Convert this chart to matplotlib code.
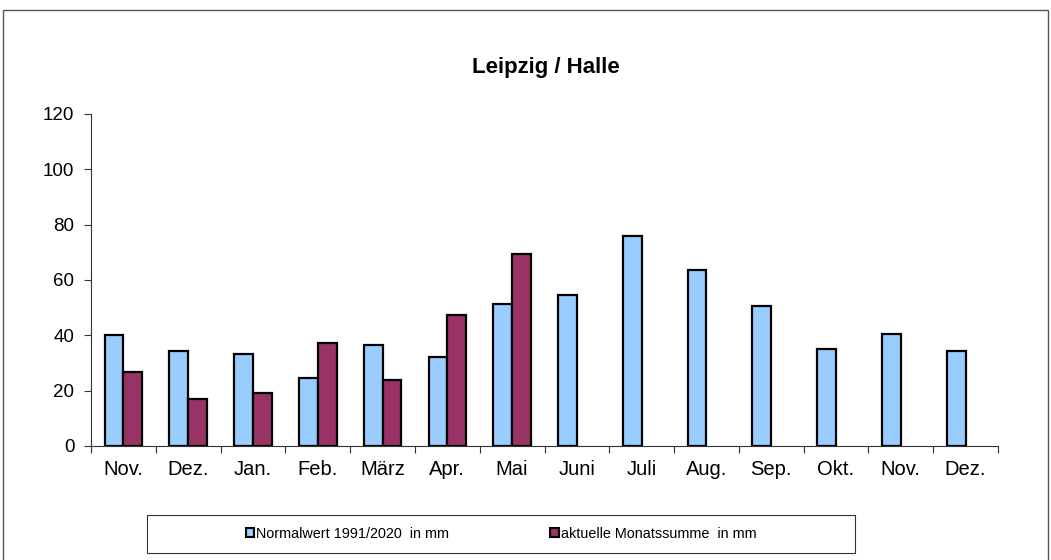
import matplotlib.pyplot as plt
import numpy as np
from matplotlib.patches import Rectangle, Patch

plt.rcParams['font.family'] = ['Liberation Sans', 'DejaVu Sans']

months = ['Nov.', 'Dez.', 'Jan.', 'Feb.', 'März', 'Apr.', 'Mai', 'Juni',
          'Juli', 'Aug.', 'Sep.', 'Okt.', 'Nov.', 'Dez.']
normal = [40.2, 34.3, 33.3, 24.6, 36.5, 32.0, 51.2, 54.6, 75.9, 63.5, 50.5, 35.2, 40.5, 34.5]
current = [26.6, 17.1, 19.2, 37.3, 23.9, 47.3, 69.4]

blue = '#99CCFF'
red = '#993366'

fig = plt.figure(figsize=(10.51, 5.6), dpi=100)
ax = fig.add_axes([91 / 1051, 1 - 446 / 560, 907 / 1051, 332 / 560])

x = np.arange(len(months)) + 0.5
w = 0.29
ax.bar(x - w / 2, normal, width=w, color=blue, edgecolor='black', linewidth=1.6)
ax.bar(x[:len(current)] + w / 2, current, width=w, color=red, edgecolor='black', linewidth=1.6)

ax.set_xlim(0, len(months))
ax.set_ylim(0, 120)
ax.set_yticks(range(0, 121, 20))
ax.set_xticks(np.arange(len(months) + 1))
ax.set_xticklabels([])
ax.set_xticks(x, minor=True)
ax.set_xticklabels(months, minor=True)
ax.tick_params(axis='x', which='minor', length=0, labelsize=14.5, pad=10)
ax.tick_params(axis='x', which='major', length=5, direction='out', color='#333333')
ax.tick_params(axis='y', labelsize=13.5, length=5, direction='out', color='#333333', pad=7)
for s in ['top', 'right']:
    ax.spines[s].set_visible(False)
ax.spines['left'].set_color('#333333')
ax.spines['bottom'].set_color('#333333')

fig.text(546 / 1051, 1 - 67 / 560, 'Leipzig / Halle', ha='center', va='center',
         fontsize=16, fontweight='bold')

# outer frame and legend box
fig.patches.append(Rectangle((3 / 1051, -0.1), 1045 / 1051, 1.1 - 10 / 560,
                             transform=fig.transFigure, fill=False,
                             edgecolor='#555555', linewidth=1))
fig.patches.append(Rectangle((147 / 1051, 1 - 553 / 560), 708 / 1051, 38 / 560,
                             transform=fig.transFigure, fill=False,
                             edgecolor='#333333', linewidth=0.8))

handles = [Patch(facecolor=blue, edgecolor='black', linewidth=1.5),
           Patch(facecolor=red, edgecolor='black', linewidth=1.5)]
fig.legend(handles, ['Normalwert 1991/2020  in mm', 'aktuelle Monatssumme  in mm'],
           loc='center', bbox_to_anchor=(501 / 1051, 1 - 534 / 560), ncol=2,
           frameon=False, fontsize=10.4, handlelength=0.6, handleheight=0.6,
           handletextpad=0.12, columnspacing=7.0)

fig.savefig('out.png', dpi=100)
